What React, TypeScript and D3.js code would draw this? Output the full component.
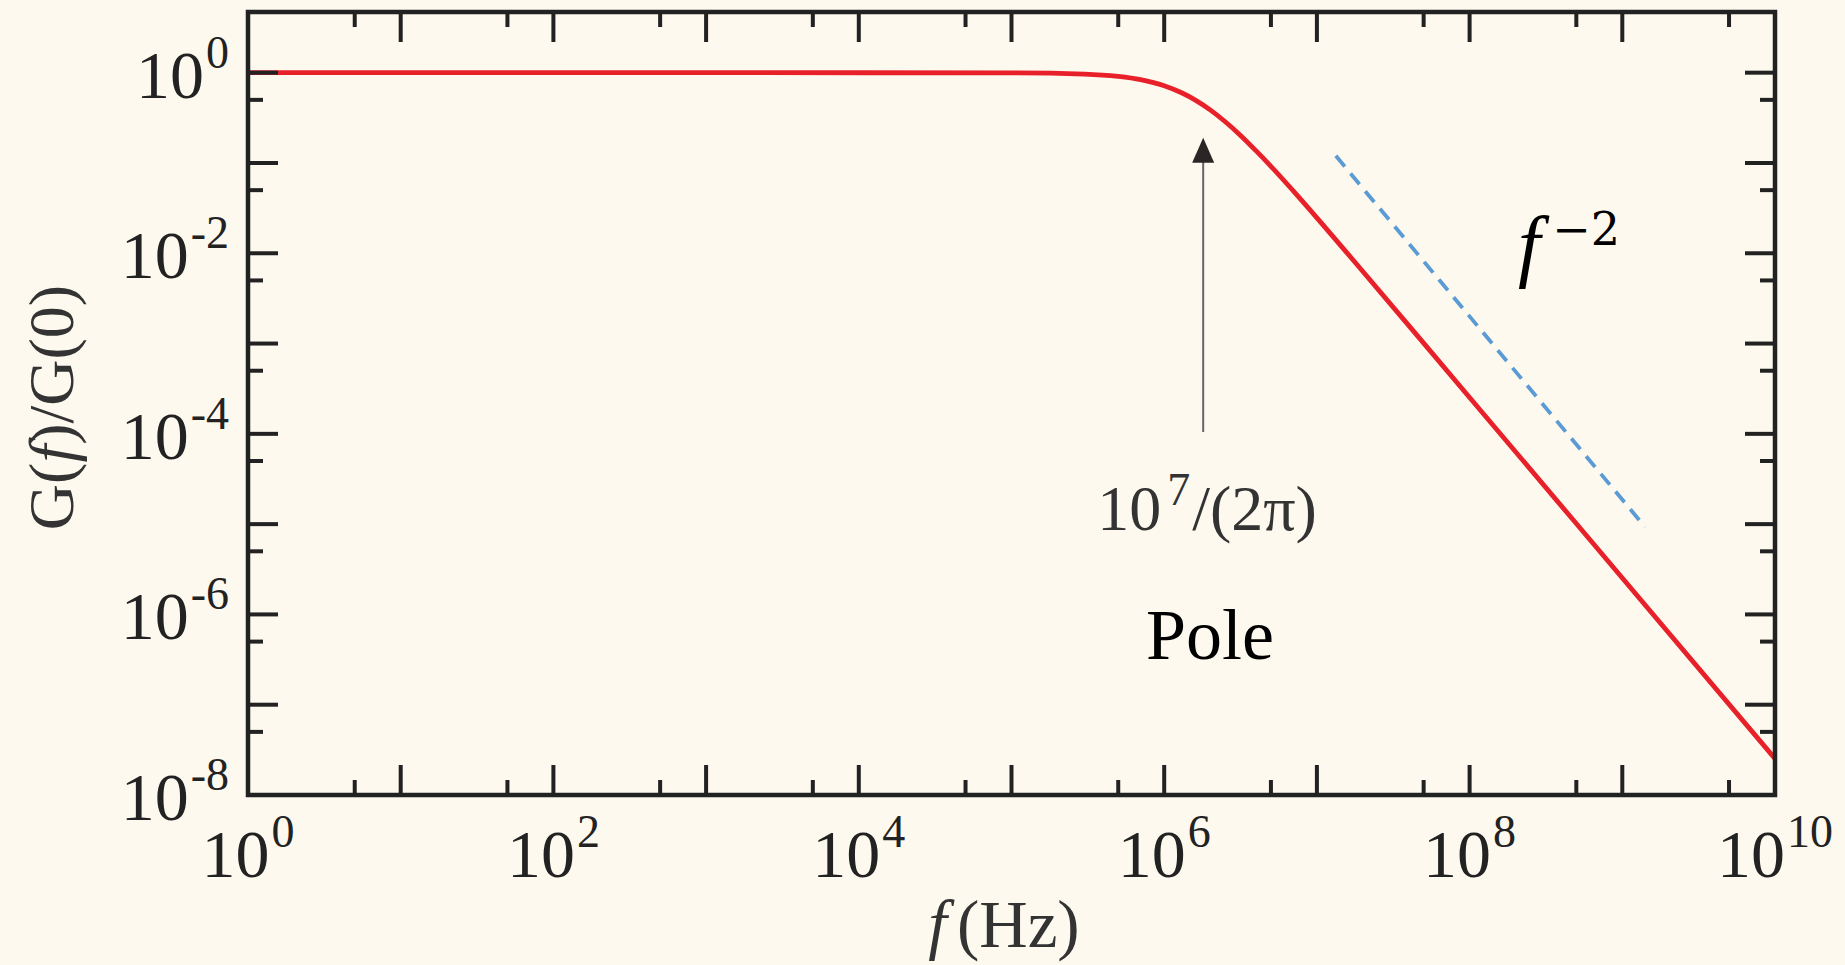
import React from "react";
import * as d3 from "d3";

// ---- data ----
const curveF = [1, 1e3, 1e5, 3e5, 5e5, 7e5, 1e6, 1.3e6, 1.6e6, 2e6, 2.5e6, 3.2e6, 4e6, 5e6, 7e6, 1e7, 2e7, 5e7, 1e8, 1e9, 1e10];
const curveG = [1, 1, 0.996, 0.966, 0.91, 0.838, 0.717, 0.599, 0.497, 0.387, 0.288, 0.198, 0.136, 0.0919, 0.0491, 0.0247, 0.00628, 0.00101, 2.53e-4, 2.53e-6, 2.53e-8];

const slopeF = [1.33e7, 1.41e9];
const slopeG = [0.12, 9.3e-6];

const arrowF = 1.8e6;
const arrowTipG = 0.19;
const arrowTailG = 1.05e-4;

const xMajorExp = [0, 1, 2, 3, 4, 5, 6, 7, 8, 9, 10];
const xLabelExp = [0, 2, 4, 6, 8, 10];
const xMinorExp = [0, 1, 2, 3, 4, 5, 6, 7, 8, 9];
const yMajorExp = [-8, -7, -6, -5, -4, -3, -2, -1, 0];
const yLabelExp = [-8, -6, -4, -2, 0];
const yMinorExp = [-8, -7, -6, -5, -4, -3, -2, -1];

const xDomain = [1, 1e10];
const yDomain = [1e-8, 4.7];

const W = 1845;
const H = 965;
const left = 248;
const right = 1775;
const top = 12;
const bottom = 795;

const BG = "#fdf9ee";
const AXIS = "#222";
const SERIF = "'Liberation Serif', 'Times New Roman', serif";

export default function App() {
  const x = d3.scaleLog().domain(xDomain).range([left, right]);
  const y = d3.scaleLog().domain(yDomain).range([bottom, top]);

  const pts: [number, number][] = curveF.map((f, i) => [x(f), y(curveG[i])]);
  const line = d3.line().curve(d3.curveMonotoneX)(pts) || "";
  const slope = d3.line()(slopeF.map((f, i) => [x(f), y(slopeG[i])] as [number, number])) || "";

  const longT = 30;
  const shortT = 15;
  const tw = 4;

  const ax = x(arrowF);
  const tipY = y(arrowTipG);
  const tailY = y(arrowTailG);

  const tickFs = 68;
  const supFs = 46;

  return (
    <svg width={W} height={H} style={{ position: "absolute", left: 0, top: 0 }} xmlns="http://www.w3.org/2000/svg">
      <rect x={0} y={0} width={W} height={H} fill={BG} />

      {/* main curve */}
      <path d={line} fill="none" stroke="#e8202a" strokeWidth={4.8} strokeLinejoin="round" />

      {/* f^-2 guide */}
      <path d={slope} fill="none" stroke="#5b9bd5" strokeWidth={3.8} strokeDasharray="14 9" />

      {/* ticks */}
      <g stroke={AXIS} strokeWidth={tw}>
        {xMajorExp.map((e) => (
          <g key={"xm" + e}>
            <line x1={x(10 ** e)} x2={x(10 ** e)} y1={bottom} y2={bottom - longT} />
            <line x1={x(10 ** e)} x2={x(10 ** e)} y1={top} y2={top + longT} />
          </g>
        ))}
        {xMinorExp.map((e) => (
          <g key={"xn" + e}>
            <line x1={x(5 * 10 ** e)} x2={x(5 * 10 ** e)} y1={bottom} y2={bottom - shortT} />
            <line x1={x(5 * 10 ** e)} x2={x(5 * 10 ** e)} y1={top} y2={top + shortT} />
          </g>
        ))}
        {yMajorExp.map((e) => (
          <g key={"ym" + e}>
            <line x1={left} x2={left + longT} y1={y(10 ** e)} y2={y(10 ** e)} />
            <line x1={right} x2={right - longT} y1={y(10 ** e)} y2={y(10 ** e)} />
          </g>
        ))}
        {yMinorExp.map((e) => (
          <g key={"yn" + e}>
            <line x1={left} x2={left + shortT} y1={y(5 * 10 ** e)} y2={y(5 * 10 ** e)} />
            <line x1={right} x2={right - shortT} y1={y(5 * 10 ** e)} y2={y(5 * 10 ** e)} />
          </g>
        ))}
      </g>

      {/* frame */}
      <rect x={left} y={top} width={right - left} height={bottom - top} fill="none" stroke={AXIS} strokeWidth={4.5} />

      {/* tick labels */}
      <g fontFamily={SERIF} fill={AXIS}>
        {xLabelExp.map((e) => (
          <text key={"xl" + e} x={x(10 ** e)} y={bottom + 82} textAnchor="middle" fontSize={tickFs}>
            <tspan>10</tspan>
            <tspan fontSize={supFs} dy={-30} dx={2}>{String(e)}</tspan>
          </text>
        ))}
        {yLabelExp.map((e) => (
          <text key={"yl" + e} x={left - 19} y={y(10 ** e) + 25} textAnchor="end" fontSize={tickFs}>
            <tspan>10</tspan>
            <tspan fontSize={supFs} dy={-30} dx={2}>{e < 0 ? "-" + String(-e) : String(e)}</tspan>
          </text>
        ))}
      </g>

      {/* axis titles */}
      <text x={1004} y={947} textAnchor="middle" fontFamily={SERIF} fontSize={67} fill="#333">
        <tspan fontStyle="italic">f</tspan>
        <tspan dx={10}>(Hz)</tspan>
      </text>
      <text
        transform={`translate(73, ${(top + bottom) / 2 + 4}) rotate(-90)`}
        textAnchor="middle"
        fontFamily={SERIF}
        fontSize={64}
        fill="#333"
      >
        G(<tspan fontStyle="italic">f</tspan>)/G(0)
      </text>

      {/* arrow annotation */}
      <line x1={ax} x2={ax} y1={tailY} y2={tipY + 20} stroke="#666" strokeWidth={2} />
      <path d={`M${ax},${tipY} L${ax - 11},${tipY + 25} L${ax + 11},${tipY + 25} Z`} fill="#2b2526" />
      <text x={1207} y={530} textAnchor="middle" fontFamily={SERIF} fontSize={64} fill="#333">
        <tspan>10</tspan>
        <tspan fontSize={46} dy={-25} dx={6}>7</tspan>
        <tspan dy={25} dx={2}>/(2π)</tspan>
      </text>

      <text x={1210} y={659} textAnchor="middle" fontFamily={SERIF} fontSize={72} fill="#000">
        Pole
      </text>

      {/* f^-2 label */}
      <text x={1518} y={272} fill="#000">
        <tspan fontFamily={SERIF} fontStyle="italic" fontSize={80}>f</tspan>
        <tspan fontFamily="'DejaVu Serif', serif" fontSize={46} dy={-27} dx={12}>−2</tspan>
      </text>
    </svg>
  );
}
